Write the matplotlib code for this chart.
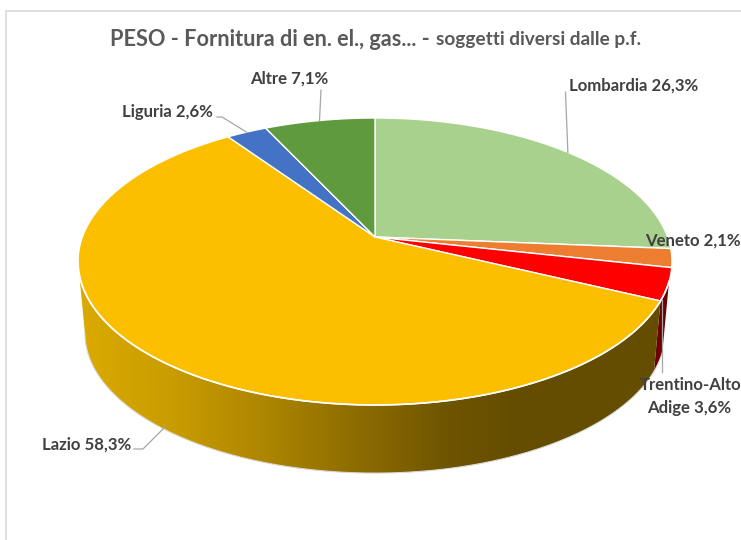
#3D style pie chart, PESO by region

import numpy as np
import matplotlib
matplotlib.use('Agg')
import matplotlib.pyplot as plt
from matplotlib.colors import LinearSegmentedColormap
from matplotlib.patches import Polygon

plt.rcParams['font.family'] = ['Lato', 'DejaVu Sans']

# Chart data
regions = ['Lombardia', 'Veneto', 'Trentino-Alto Adige', 'Lazio', 'Liguria', 'Altre']
shares = [26.3, 2.1, 3.6, 58.3, 2.6, 7.1]
colors = ['#A9D18E', '#ED7D31', '#FF0000', '#FBBF00', '#4472C4', '#609A3E']

title_main = 'PESO - Fornitura di en. el., gas... -'
title_sub = 'soggetti diversi dalle p.f.'

# Pie geometry in pixels, perspective view of a flat disc
CX, CY = 375, 237
A, B, K = 139.3, 292.6, 0.1707
WALL_SCALE, WALL_DROP = 0.977, 72


def project(share, bottom=False):
    # share is a cumulative percentage, clockwise from the top of the disc
    t = np.radians(np.asarray(share, dtype=float) * 3.6)
    d = 1 + K * np.cos(t)
    dx = B * np.sin(t) / d
    dy = -A * np.cos(t) / d
    if bottom:
        return CX + WALL_SCALE * dx, CY + WALL_SCALE * dy + WALL_DROP
    return CX + dx, CY + dy


def arc(start, end, bottom=False):
    s = np.linspace(start, end, 200)
    x, y = project(s, bottom)
    return np.column_stack([x, y])


def draw_wall(ax, start, end, image, extent, cmap):
    # Side wall between the top rim and the bottom rim, painted by a gradient
    pts = np.vstack([arc(start, end), arc(end, start, bottom=True)])
    patch = Polygon(pts, closed=True, facecolor='none', edgecolor='none')
    ax.add_patch(patch)
    im = ax.imshow(image, extent=extent, cmap=cmap, vmin=0, vmax=1, aspect='auto', zorder=1)
    im.set_clip_path(patch)
    ax.plot(pts[:200, 0], pts[:200, 1], color='white', lw=1.2, zorder=3)
    ax.plot(pts[200:, 0], pts[200:, 1], color='#D9D9D9', lw=0.8, zorder=1.5)


fig = plt.figure(figsize=(7.41, 5.40), dpi=100)
ax = fig.add_axes([0, 0, 1, 1])
ax.set_xlim(0, 741)
ax.set_ylim(540, 0)
ax.axis('off')

# Chart frame, cut off by the picture on the right and at the bottom
ax.plot([5.5, 5.5, 741], [540, 10.5, 10.5], color='#D9D9D9', lw=1.2, zorder=0)

edges = np.concatenate([[0], np.cumsum(shares)])
edges = edges / edges[-1] * 100

# Side walls, visible up to the left extreme of the disc
left_extreme = np.degrees(2 * np.pi - np.arccos(-K)) / 3.6
gradient = np.linspace(0, 1, 661).reshape(1, -1)
gold = LinearSegmentedColormap.from_list('gold', [
    (0.0, '#DBAA00'), (0.14, '#C99C00'), (0.27, '#AF8700'),
    (0.41, '#8F6E00'), (0.56, '#6E5400'), (0.66, '#654D00'), (1.0, '#654D00')])
dark_red = LinearSegmentedColormap.from_list('dark_red', ['#6E0000', '#6E0000'])
wall_extent = [80, 741, 540, 0]
# the red wall only shows from a little past the rim's right end
draw_wall(ax, edges[2] + 1.5, edges[3], gradient, wall_extent, dark_red)
draw_wall(ax, edges[3], left_extreme, gradient, wall_extent, gold)
ax.set_xlim(0, 741)
ax.set_ylim(540, 0)

# Top face
for i in range(len(shares)):
    pts = np.vstack([[CX, CY], arc(edges[i], edges[i + 1])])
    ax.fill(pts[:, 0], pts[:, 1], color=colors[i], ec='white', lw=1.0, zorder=2)

# Leader lines
line_color = '#A6A6A6'
mid = (edges[:-1] + edges[1:]) / 2
x, y = project(mid[0])
ax.plot([565.5, x], [92, y], color=line_color, lw=0.9, zorder=4)
x, y = project(mid[5])
ax.plot([321, x], [90, y], color=line_color, lw=0.9, zorder=4)
x, y = project(mid[4])
ax.plot([217, 222, x], [117, 117, y], color=line_color, lw=0.9, zorder=4)
ax.plot([134, 143, 165], [449, 449, 427], color=line_color, lw=0.9, zorder=4)
ax.plot([662, 662], [300, 372], color=line_color, lw=0.9, zorder=4)

# Title
ax.text(110, 45.5, title_main, fontsize=15.7, fontweight='bold', color='#595959',
        ha='left', va='baseline', zorder=5)
ax.text(436, 45, title_sub, fontsize=13.7, fontweight='bold', color='#595959',
        ha='left', va='baseline', zorder=5)


def pct(value):
    return f'{value:.1f}%'.replace('.', ',')


# Data labels
label_style = dict(fontsize=12.05, fontweight='bold', color='#404040', zorder=5, va='center')
ax.text(569, 86, f'{regions[0]} {pct(shares[0])}', ha='left', **label_style)
ax.text(645, 241, f'{regions[1]} {pct(shares[1])}', ha='left', **label_style)
ax.text(691, 385, 'Trentino-Alto', ha='center', **label_style)
ax.text(689, 408, f'Adige {pct(shares[2])}', ha='center', **label_style)
ax.text(131, 445, f'{regions[3]} {pct(shares[3])}', ha='right', **label_style)
ax.text(122, 112, f'{regions[4]} {pct(shares[4])}', ha='left', **label_style)
ax.text(250, 79, f'{regions[5]} {pct(shares[5])}', ha='left', **label_style)

fig.savefig('out.png', dpi=100)
